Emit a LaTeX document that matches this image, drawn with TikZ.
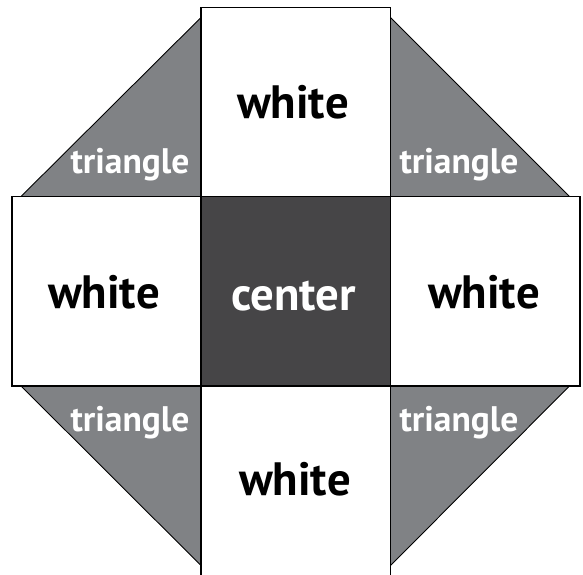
\documentclass[tikz,border=0pt]{standalone}
\usepackage{fontspec}
\setmainfont{PT Sans}
\usepackage{xcolor}
\definecolor{trigray}{HTML}{808285}
\definecolor{centergray}{HTML}{464547}

\begin{document}
\begin{tikzpicture}[line join=miter,
  sq/.style={draw=black,line width=0.6pt},
  tri/.style={fill=trigray,draw=black,line width=0.5pt},
  boxlbl/.style={anchor=base,inner sep=0pt,font=\fontsize{26.6}{26.6}\selectfont\bfseries},
  trilbl/.style={anchor=base,inner sep=0pt,text=white,font=\fontsize{20.2}{20.2}\selectfont\bfseries}]
\useasboundingbox (0,0) rectangle (11.66,11.48);
\begin{scope}
\clip (0,0) rectangle (11.66,11.48);
% corner triangles
\draw[tri] (4.02,7.55) -- (4.02,11.13) -- (0.42,7.55) -- cycle;
\draw[tri] (7.81,7.55) -- (7.81,11.13) -- (11.39,7.55) -- cycle;
\draw[tri] (4.02,3.76) -- (0.42,3.76) -- (4.02,0.17) -- cycle;
\draw[tri] (7.81,3.76) -- (11.39,3.76) -- (7.81,0.17) -- cycle;
% squares
\draw[sq,fill=white] (4.02,7.55) rectangle (7.81,11.33);
\draw[sq,fill=white] (0.24,3.76) rectangle (4.02,7.55);
\draw[sq,fill=centergray] (4.02,3.76) rectangle (7.81,7.55);
\draw[sq,fill=white] (7.81,3.76) rectangle (11.60,7.55);
\draw[sq,fill=white] (4.02,-0.03) rectangle (7.81,3.76);
\end{scope}
% labels
\node[boxlbl] (top) at (5.86,9.11) {white};
\node[boxlbl] (left) at (2.08,5.31) {white};
\node[boxlbl,text=white] (center) at (5.87,5.28) {center};
\node[boxlbl] (right) at (9.68,5.31) {white};
\node[boxlbl] (bottom) at (5.90,1.58) {white};
\node[trilbl] (tl) at (2.60,8.01) {triangle};
\node[trilbl] (tr) at (9.18,8.01) {triangle};
\node[trilbl] (bl) at (2.60,2.85) {triangle};
\node[trilbl] (br) at (9.18,2.85) {triangle};
\end{tikzpicture}
\end{document}
